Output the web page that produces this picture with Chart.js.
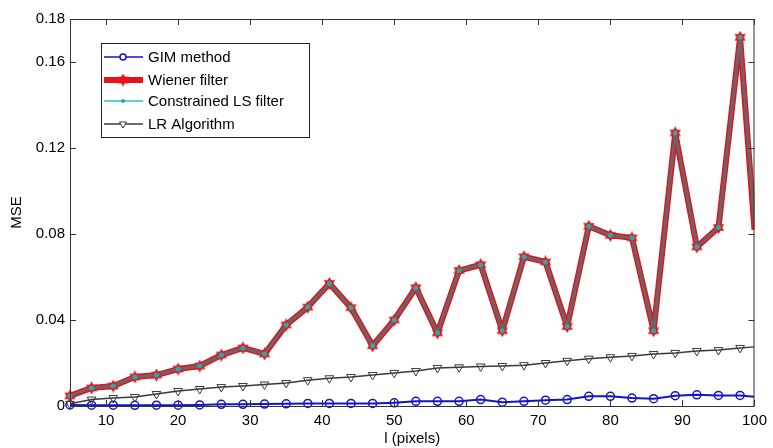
<!DOCTYPE html>
<html>
<head>
<meta charset="utf-8">
<script src="https://cdn.jsdelivr.net/npm/chart.js@4"></script>
<style>
  html, body { margin: 0; padding: 0; background: #fff; }
  #wrap { width: 773px; height: 448px; position: relative; }
</style>
</head>
<body>
<div id="wrap"><canvas id="mseChart"></canvas></div>
<script>
// last column is the value read where the curves leave the plot at x = 100
const xValues = [5, 8, 11, 14, 17, 20, 23, 26, 29, 32, 35, 38, 41, 44, 47, 50, 53,
    56, 59, 62, 65, 68, 71, 74, 77, 80, 83, 86, 89, 92, 95, 98, 100];

const gimMethod = [0.0005, 0.0004, 0.0004, 0.0003, 0.0004, 0.0004, 0.0005, 0.0008, 0.0008,
    0.0009, 0.001, 0.0012, 0.0012, 0.0012, 0.0012, 0.0015, 0.0022, 0.0022, 0.0022, 0.003,
    0.0018, 0.0022, 0.0027, 0.003, 0.0045, 0.0045, 0.0037, 0.0034, 0.0048, 0.0052, 0.0049,
    0.0049, 0.0043];

const wienerFilter = [0.0047, 0.0084, 0.0093, 0.0135, 0.0144, 0.0172, 0.0186, 0.0237, 0.027,
    0.0242, 0.0377, 0.046, 0.057, 0.0457, 0.028, 0.040, 0.055, 0.034, 0.063, 0.0657,
    0.035, 0.0694, 0.067, 0.037, 0.0836, 0.0794, 0.0782, 0.035, 0.127, 0.074, 0.083,
    0.1715, 0.082];

const constrainedLS = [0.0047, 0.0084, 0.0093, 0.0135, 0.0144, 0.0172, 0.0186, 0.0237, 0.027,
    0.0242, 0.0377, 0.046, 0.057, 0.0457, 0.028, 0.040, 0.055, 0.034, 0.063, 0.0657,
    0.035, 0.0694, 0.067, 0.037, 0.0836, 0.0794, 0.0782, 0.035, 0.127, 0.074, 0.083,
    0.1715, 0.084];

const lrAlgorithm = [0.001, 0.003, 0.0037, 0.0042, 0.0056, 0.007, 0.0079, 0.0088, 0.0093,
    0.010, 0.0107, 0.012, 0.0129, 0.0135, 0.0144, 0.0154, 0.0163, 0.0177, 0.018, 0.0184,
    0.0186, 0.019, 0.020, 0.021, 0.022, 0.0227, 0.0233, 0.0242, 0.0247, 0.0256, 0.026,
    0.027, 0.0275];

const xTicks = [10, 20, 30, 40, 50, 60, 70, 80, 90, 100];
const yTicks = [0, 0.04, 0.08, 0.12, 0.16, 0.18];

const FONT = "'Liberation Sans', Arial, sans-serif";

// filled six-point star, like matlab's 'h' marker
function hexagram(size, color) {
    const c = document.createElement('canvas');
    c.width = size; c.height = size;
    const g = c.getContext('2d');
    const cx = size / 2, cy = size / 2, ro = size / 2, ri = size / 3.4;
    g.beginPath();
    for (let i = 0; i < 12; i++) {
        const r = i % 2 ? ri : ro;
        const a = -Math.PI / 2 + i * Math.PI / 6;
        g.lineTo(cx + r * Math.cos(a), cy + r * Math.sin(a));
    }
    g.closePath();
    g.fillStyle = color;
    g.fill();
    return c;
}
const starMark = hexagram(13, '#e8121a');

const pts = arr => arr.map((v, i) => ({ x: xValues[i], y: v }));

// no marker on the edge value, the curve just runs out of the box there
const lastIdx = xValues.length - 1;
const markerSize = r => ctx => ctx.dataIndex === lastIdx ? 0 : r;

const clipBox = { left: 8, right: 0, top: 8, bottom: 8 };

const series = [
    {
        label: 'GIM method', data: pts(gimMethod), order: 4, clip: clipBox,
        borderColor: '#1414c8', borderWidth: 2,
        pointStyle: 'circle', pointRadius: markerSize(4), pointBorderWidth: 1.5,
        pointBorderColor: '#1414c8', pointBackgroundColor: 'rgba(0,0,0,0)'
    },
    {
        label: 'Wiener filter', data: pts(wienerFilter), order: 3, clip: clipBox,
        borderColor: '#e8121a', borderWidth: 6,
        borderJoinStyle: 'round',
        pointStyle: starMark, pointRadius: markerSize(6)
    },
    {
        label: 'Constrained LS filter', data: pts(constrainedLS), order: 2, clip: clipBox,
        borderColor: 'rgba(0,170,170,0.55)', borderWidth: 3,
        borderJoinStyle: 'round',
        pointStyle: 'circle', pointRadius: markerSize(2.5), pointBorderWidth: 0,
        pointBackgroundColor: '#2aa9a9'
    },
    {
        label: 'LR Algorithm', data: pts(lrAlgorithm), order: 1, clip: clipBox,
        borderColor: '#3a3a3a', borderWidth: 1.5,
        pointStyle: 'triangle', pointRotation: 180, pointRadius: markerSize(5), pointBorderWidth: 1,
        pointBorderColor: '#3a3a3a', pointBackgroundColor: 'rgba(0,0,0,0)'
    }
];

// box round the plot with matlab style inward ticks
const frame = {
    id: 'frame',
    afterDatasetsDraw(chart) {
        const { ctx, chartArea: a, scales: { x, y } } = chart;
        ctx.save();
        ctx.strokeStyle = '#333';
        ctx.lineWidth = 1;
        ctx.strokeRect(a.left + 0.5, a.top + 0.5, a.right - a.left - 1, a.bottom - a.top);
        ctx.beginPath();
        xTicks.forEach(t => {
            const px = Math.round(x.getPixelForValue(t)) + 0.5;
            ctx.moveTo(px, a.bottom); ctx.lineTo(px, a.bottom - 6);
            ctx.moveTo(px, a.top); ctx.lineTo(px, a.top + 6);
        });
        yTicks.forEach(t => {
            const py = Math.round(y.getPixelForValue(t)) + 0.5;
            ctx.moveTo(a.left, py); ctx.lineTo(a.left + 6, py);
            ctx.moveTo(a.right, py); ctx.lineTo(a.right - 6, py);
        });
        ctx.stroke();
        ctx.restore();
    }
};

// legend box in the upper left of the plot
const boxLegend = {
    id: 'boxLegend',
    afterDraw(chart) {
        const ctx = chart.ctx;
        const left = 101, top = 43, w = 208, h = 94;
        const rows = [57, 80, 101, 124];
        ctx.save();
        ctx.fillStyle = '#fff';
        ctx.fillRect(left, top, w, h);
        ctx.strokeStyle = '#222';
        ctx.lineWidth = 1;
        ctx.strokeRect(left + 0.5, top + 0.5, w, h);
        ctx.font = '15px ' + FONT;
        ctx.textBaseline = 'middle';
        chart.data.datasets.forEach((ds, i) => {
            const yy = rows[i];
            ctx.beginPath();
            ctx.moveTo(104, yy); ctx.lineTo(143, yy);
            ctx.lineWidth = i === 1 ? 6 : 1.5;
            ctx.strokeStyle = i === 2 ? '#33c0c0' : ds.borderColor;
            ctx.stroke();
            if (i === 1) {
                ctx.drawImage(starMark, 123 - 6.5, yy - 6.5);
            } else {
                ctx.lineWidth = ds.pointBorderWidth || 1;
                ctx.strokeStyle = ds.pointBorderColor || ds.borderColor;
                ctx.fillStyle = i === 0 || i === 3 ? '#fff' : ds.pointBackgroundColor;
                Chart.helpers.drawPoint(ctx, {
                    pointStyle: ds.pointStyle,
                    rotation: ds.pointRotation || 0,
                    radius: i === 2 ? 2 : (i === 0 ? 3 : 4),
                    borderWidth: ds.pointBorderWidth || 0
                }, 123, yy);
            }
            ctx.fillStyle = '#000';
            ctx.fillText(ds.label, 148, yy + 1);
        });
        ctx.restore();
    }
};

new Chart(document.getElementById('mseChart'), {
    type: 'line',
    data: { datasets: series },
    plugins: [frame, boxLegend],
    options: {
        responsive: true,
        maintainAspectRatio: false,
        animation: false,
        layout: { padding: { left: 0, right: 16, top: 19, bottom: 0 } },
        plugins: { legend: { display: false }, tooltip: { enabled: false } },
        elements: { line: { tension: 0 } },
        scales: {
            x: {
                type: 'linear',
                min: 5,
                max: 100,
                afterBuildTicks: s => { s.ticks = xTicks.map(v => ({ value: v })); },
                afterFit: s => { s.height = 42; },
                grid: { display: false, drawTicks: false },
                border: { display: false },
                ticks: { color: '#000', padding: 6, maxRotation: 0, font: { family: FONT, size: 15 } },
                title: {
                    display: true, text: 'l (pixels)', color: '#000',
                    padding: { top: 0, bottom: 0 }, font: { family: FONT, size: 15 }
                }
            },
            y: {
                min: 0,
                max: 0.18,
                afterBuildTicks: s => { s.ticks = yTicks.map(v => ({ value: v })); },
                afterFit: s => { s.width = 70; },
                grid: { display: false, drawTicks: false },
                border: { display: false },
                ticks: {
                    color: '#000', padding: 5, font: { family: FONT, size: 15 },
                    callback: v => v === 0 ? '0' : v.toFixed(2)
                },
                title: {
                    display: true, text: 'MSE', color: '#000',
                    padding: { top: 8, bottom: 0 }, font: { family: FONT, size: 15 }
                }
            }
        }
    }
});
</script>
</body>
</html>
